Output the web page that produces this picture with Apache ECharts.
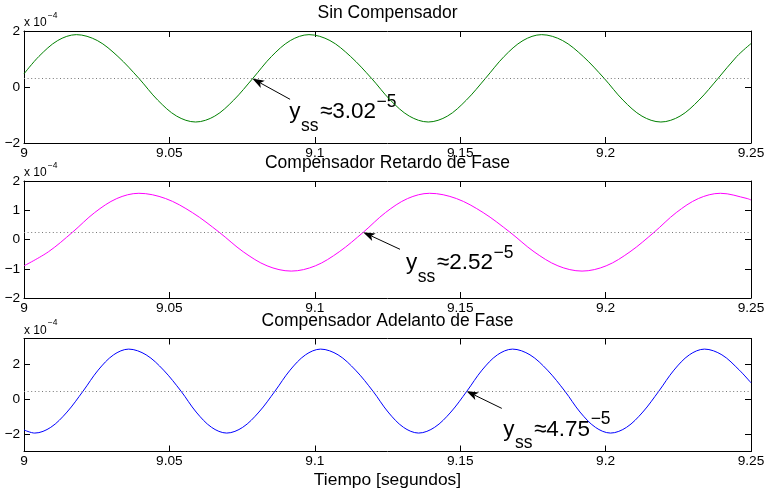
<!DOCTYPE html>
<html>
<head>
<meta charset="utf-8">
<script src="https://cdn.jsdelivr.net/npm/echarts@6/dist/echarts.min.js"></script>
<style>
  html, body { margin: 0; padding: 0; background: #fff; }
  #chart { width: 764px; height: 493px; }
</style>
</head>
<body>
<div id="chart"></div>
<script>
// Steady-state oscillation of the plant output for three controller variants.
// Output amplitudes are stored in units of 1e-4 (the axis multiplier).

const panelTitles = ['Sin Compensador', 'Compensador Retardo de Fase', 'Compensador Adelanto de Fase'];
const xAxisName = 'Tiempo [segundos]';
const xTickValues = [9, 9.05, 9.1, 9.15, 9.2, 9.25];
const yTicksSin = [-2, 0, 2];
const yTicksRetardo = [-2, -1, 0, 1, 2];
const yTicksAdelanto = [-2, 0, 2];
const yRangeSin = [-2, 2];
const yRangeRetardo = [-2, 2];
const yRangeAdelanto = [-3, 3.5];
const yMultiplierExp = -4;

// Sin Compensador
const tSin = [9.0000, 9.0051, 9.0116, 9.0180, 9.0252, 9.0323, 9.0395, 9.0460, 9.0525, 9.0590,
  9.0656, 9.0721, 9.0787, 9.0851, 9.0916, 9.0980, 9.1052, 9.1123, 9.1195, 9.1260,
  9.1325, 9.1390, 9.1456, 9.1521, 9.1587, 9.1651, 9.1716, 9.1780, 9.1852, 9.1923,
  9.1995, 9.2060, 9.2125, 9.2190, 9.2256, 9.2321, 9.2387, 9.2451, 9.2500];
const ySin = [0.47, 1.09, 1.66, 1.87, 1.66, 1.09, 0.31, -0.47, -1.04, -1.25,
  -1.04, -0.47, 0.31, 1.09, 1.66, 1.87, 1.66, 1.09, 0.31, -0.47,
  -1.04, -1.25, -1.04, -0.47, 0.31, 1.09, 1.66, 1.87, 1.66, 1.09,
  0.31, -0.47, -1.04, -1.25, -1.04, -0.47, 0.31, 1.09, 1.55];

// Compensador Retardo de Fase
const tRetardo = [9.0000, 9.0084, 9.0167, 9.0243, 9.0319, 9.0395, 9.0487, 9.0579, 9.0671, 9.0754,
  9.0836, 9.0919, 9.1002, 9.1084, 9.1167, 9.1243, 9.1319, 9.1395, 9.1487, 9.1579,
  9.1671, 9.1754, 9.1836, 9.1919, 9.2002, 9.2084, 9.2167, 9.2243, 9.2319, 9.2395,
  9.2487, 9.2500];
const yRetardo = [-0.90, -0.42, 0.25, 0.92, 1.40, 1.58, 1.40, 0.92, 0.25, -0.42,
  -0.90, -1.08, -0.90, -0.42, 0.25, 0.92, 1.40, 1.58, 1.40, 0.92,
  0.25, -0.42, -0.90, -1.08, -0.90, -0.42, 0.25, 0.92, 1.40, 1.58,
  1.40, 1.35];

// Compensador Adelanto de Fase
const tAdelanto = [9.0000, 9.0037, 9.0092, 9.0148, 9.0203, 9.0255, 9.0308, 9.0360, 9.0420, 9.0480,
  9.0540, 9.0592, 9.0645, 9.0697, 9.0752, 9.0808, 9.0863, 9.0915, 9.0968, 9.1020,
  9.1080, 9.1140, 9.1200, 9.1252, 9.1305, 9.1357, 9.1412, 9.1468, 9.1523, 9.1575,
  9.1628, 9.1680, 9.1740, 9.1800, 9.1860, 9.1912, 9.1965, 9.2017, 9.2072, 9.2128,
  9.2183, 9.2235, 9.2288, 9.2340, 9.2400, 9.2460, 9.2500];
const yAdelanto = [-1.76, -1.94, -1.61, -0.73, 0.47, 1.68, 2.56, 2.89, 2.56, 1.68,
  0.47, -0.73, -1.61, -1.94, -1.61, -0.73, 0.47, 1.68, 2.56, 2.89,
  2.56, 1.68, 0.47, -0.73, -1.61, -1.94, -1.61, -0.73, 0.47, 1.68,
  2.56, 2.89, 2.56, 1.68, 0.47, -0.73, -1.61, -1.94, -1.61, -0.73,
  0.47, 1.68, 2.56, 2.89, 2.56, 1.68, 0.95];

// Steady-state values y_ss = mantissa x 10^-5
const yssMantissa = [3.02, 2.52, 4.75];
const yssExp = -5;

// Annotation anchors in data space: arrow tip time, arrow tail, text origin (left, baseline)
const arrowTipTime = [9.0785, 9.1166, 9.1521];
const arrowTail = [[9.0915, -0.44], [9.1293, -0.335], [9.1643, -0.52]];
const labelOrigin = [[9.0912, -1.18], [9.1314, -1.08], [9.1648, -2.19]];

const FONT = '"Liberation Sans", Arial, Helvetica, sans-serif';
const LEFT = 24, WIDTH = 727;
const layout = [
  { top: 31, height: 112 },
  { top: 181, height: 117 },
  { top: 338.5, height: 113 }
];

const panels = [
  { title: panelTitles[0], t: tSin, y: ySin, color: '#008000', range: yRangeSin, ticks: yTicksSin, interval: 2 },
  { title: panelTitles[1], t: tRetardo, y: yRetardo, color: '#ff00ff', range: yRangeRetardo, ticks: yTicksRetardo, interval: 1 },
  { title: panelTitles[2], t: tAdelanto, y: yAdelanto, color: '#0000ff', range: yRangeAdelanto, ticks: yTicksAdelanto, interval: null }
];

const MINUS = '\u2212';
function fmtNum(v) {
  const r = Math.round(v * 1000) / 1000;
  return r < 0 ? MINUS + (-r) : String(r);
}
// level in axis units (x 1e-4)
function yssLevel(i) { return yssMantissa[i] * Math.pow(10, yssExp - yMultiplierExp); }

const lineCol = '#000';
function tickStyle(values) {
  return { show: true, inside: true, length: 6, customValues: values, lineStyle: { color: lineCol, width: 1 } };
}

const grid = [], xAxis = [], yAxis = [], series = [];
panels.forEach((p, i) => {
  const g = layout[i];
  grid.push({ left: LEFT, top: g.top, width: WIDTH, height: g.height, show: false, containLabel: false, outerBoundsMode: 'none' });
  const xMin = xTickValues[0], xMax = xTickValues[xTickValues.length - 1];
  ['bottom', 'top'].forEach(pos => {
    xAxis.push({
      type: 'value', gridIndex: i, position: pos, min: xMin, max: xMax, interval: 0.05,
      axisLine: { show: true, onZero: false, lineStyle: { color: lineCol, width: 1 } },
      axisTick: tickStyle(xTickValues),
      splitLine: { show: false },
      axisLabel: pos === 'bottom'
        ? { show: true, margin: 3, fontSize: 13.7, fontFamily: FONT, color: '#000', customValues: xTickValues, formatter: fmtNum, hideOverlap: false }
        : { show: false }
    });
  });
  ['left', 'right'].forEach(pos => {
    const ax = {
      type: 'value', gridIndex: i, position: pos, min: p.range[0], max: p.range[1],
      axisLine: { show: true, onZero: false, lineStyle: { color: lineCol, width: 1 } },
      axisTick: tickStyle(p.ticks),
      splitLine: { show: false },
      axisLabel: pos === 'left'
        ? { show: true, margin: 4, fontSize: 13.7, fontFamily: FONT, color: '#000', customValues: p.ticks, formatter: fmtNum, hideOverlap: false }
        : { show: false }
    };
    if (p.interval) ax.interval = p.interval;
    yAxis.push(ax);
  });
  series.push({
    type: 'line', xAxisIndex: 2 * i, yAxisIndex: 2 * i,
    data: p.t.map((t, k) => [t, p.y[k]]),
    showSymbol: false, symbol: 'none', smooth: 0.34,
    lineStyle: { color: p.color, width: 1 }, itemStyle: { color: p.color },
    emphasis: { disabled: true }, silent: true, animation: false, clip: true,
    markLine: {
      silent: true, animation: false, symbol: ['none', 'none'],
      label: { show: false }, emphasis: { disabled: true },
      lineStyle: { type: [1, 2.6], color: '#777', width: 1 },
      data: [{ yAxis: yssLevel(i) }]
    }
  });
});

const chart = echarts.init(document.getElementById('chart'), null, { renderer: 'canvas' });
chart.setOption({ animation: false, backgroundColor: '#fff', grid, xAxis, yAxis, series });

// text measuring for the sub/superscript runs
const measureCtx = document.createElement('canvas').getContext('2d');
function textW(s, size) { measureCtx.font = size + 'px ' + FONT; return measureCtx.measureText(s).width; }
function textEl(str, x, baselineY, size, align) {
  return {
    type: 'text', x: x, y: baselineY - 0.35 * size, silent: true,
    style: { text: str, font: size + 'px ' + FONT, fill: '#000', textAlign: align || 'left', textVerticalAlign: 'middle', align: align || 'left', verticalAlign: 'middle' }
  };
}
function midText(str, x, midY, size, align) {
  return {
    type: 'text', x: x, y: midY, silent: true,
    style: { text: str, font: size + 'px ' + FONT, fill: '#000', textAlign: align || 'left', textVerticalAlign: 'middle', align: align || 'left', verticalAlign: 'middle' }
  };
}

const graphics = [];
const MAIN = 22.5, SCRIPT = 17.5;
panels.forEach((p, i) => {
  const g = layout[i];
  graphics.push(midText(p.title, LEFT + WIDTH / 2, g.top - 17.5, 17.5, 'center'));
  graphics.push(midText('x 10', LEFT, g.top - 8, 12));
  graphics.push(midText(MINUS + Math.abs(yMultiplierExp), LEFT + textW('x 10', 12) + 1, g.top - 15.5, 8.5));

  // arrow from the label to the steady-state crossing
  const tip = chart.convertToPixel({ seriesIndex: i }, [arrowTipTime[i], yssLevel(i)]);
  const tail = chart.convertToPixel({ seriesIndex: i }, arrowTail[i]);
  const dx = tip[0] - tail[0], dy = tip[1] - tail[1];
  const len = Math.hypot(dx, dy), ux = dx / len, uy = dy / len, nx = -uy, ny = ux;
  const L = 12, W = 4.2;
  const bx = tip[0] - ux * L, by = tip[1] - uy * L;
  const notch = [tip[0] - ux * L * 0.75, tip[1] - uy * L * 0.75];
  graphics.push({ type: 'line', silent: true, shape: { x1: tail[0], y1: tail[1], x2: notch[0], y2: notch[1] }, style: { stroke: '#000', lineWidth: 1 } });
  graphics.push({ type: 'polygon', silent: true, shape: { points: [tip, [bx + nx * W, by + ny * W], notch, [bx - nx * W, by - ny * W]] }, style: { fill: '#000' } });

  // y_ss ≈ m^-5 label
  const o = chart.convertToPixel({ seriesIndex: i }, labelOrigin[i]);
  let x = o[0];
  graphics.push(textEl('y', x, o[1], MAIN));
  x += textW('y', MAIN) + 0.5;
  graphics.push(textEl('ss', x, o[1] + 12, SCRIPT));
  x += textW('ss', SCRIPT) + 1.5;
  const mainStr = '\u2248' + yssMantissa[i].toFixed(2);
  graphics.push(textEl(mainStr, x, o[1], MAIN));
  x += textW(mainStr, MAIN) + 0.5;
  graphics.push(textEl(MINUS + Math.abs(yssExp), x, o[1] - 12, SCRIPT));
});
graphics.push(midText(xAxisName, LEFT + WIDTH / 2, 480.5, 17.4, 'center'));

chart.setOption({ graphic: graphics });
</script>
</body>
</html>
